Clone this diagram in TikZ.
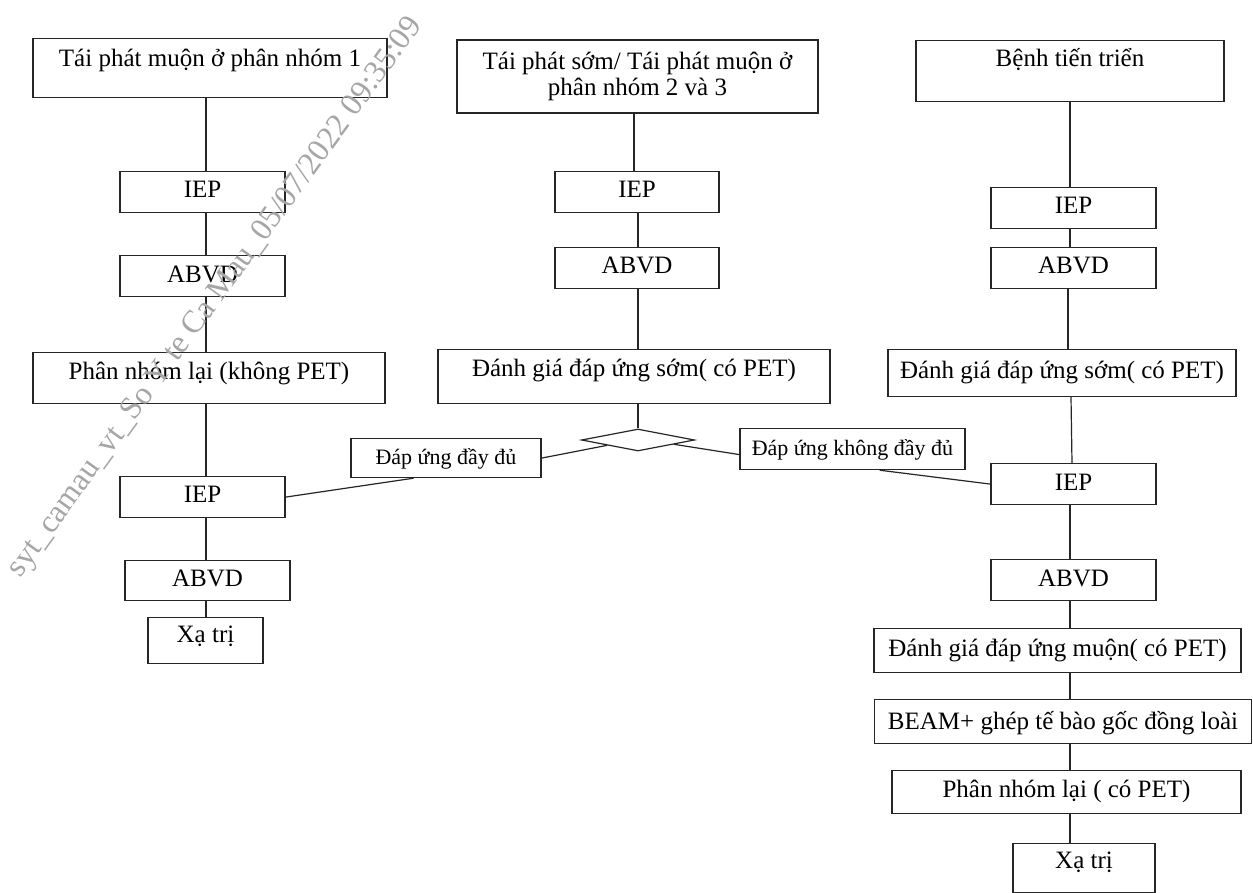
\documentclass[tikz,border=0pt]{standalone}
\usepackage{fontspec}
\setmainfont{Liberation Serif}
\usetikzlibrary{shapes.geometric,calc}

\newcommand{\mainsz}{\fontsize{25}{26}\selectfont}
\newcommand{\tagsz}{\fontsize{22}{24}\selectfont}
\newcommand{\wmsz}{\fontsize{32}{34}\selectfont}

\tikzset{
  box/.style={draw=black!85, line width=1.2pt, inner sep=0pt, anchor=north, font=\mainsz},
  tag/.style={draw=black!85, line width=1.2pt, inner sep=0pt, anchor=north, font=\tagsz},
  link/.style={draw=black!85, line width=1.2pt},
}

\begin{document}
\begin{tikzpicture}[x=1pt, y=-1pt]
\useasboundingbox[fill=white] (0,0) rectangle (1253,893);

% column axes
\coordinate (Lx) at (206,0);
\coordinate (Mx) at (634,0);
\coordinate (Mx2) at (638,0);
\coordinate (Rx) at (1070,0);

% left column
\node[box, minimum width=354, text height=28, text depth=31] (A1) at (210,38) {Tái phát muộn ở phân nhóm 1};
\node[box, minimum width=165, text height=26, text depth=15] (IEP1) at (202.5,171) {IEP};
\node[box, minimum width=165, text height=27, text depth=14] (ABVD1) at (202.5,255) {ABVD};
\node[box, minimum width=352, text height=27, text depth=24] (PN1) at (209,352) {Phân nhóm lại (không PET)};
\node[box, minimum width=165, text height=26, text depth=15] (IEP2) at (202.5,476) {IEP};
\node[box, minimum width=165, text height=26, text depth=14] (ABVD2) at (207.5,560) {ABVD};
\node[box, minimum width=115, text height=25, text depth=21] (XT1) at (205.5,617) {Xạ trị};

% middle column
\node[box, anchor=center, align=center, minimum width=361, minimum height=73] (MT) at (637.5,76.5)
  {Tái phát sớm/ Tái phát muộn ở\\phân nhóm 2 và 3};
\node[box, minimum width=164, text height=26, text depth=15] (IEP3) at (637,171) {IEP};
\node[box, minimum width=164, text height=26, text depth=15] (ABVD3) at (637,247) {ABVD};
\node[box, minimum width=392, text height=27, text depth=27] (DG1) at (634,349) {Đánh giá đáp ứng sớm( có PET)};
\node[draw=black!85, line width=1.2pt, diamond, inner sep=0pt, minimum width=113, minimum height=22] (dia) at (638,440) {};
\node[tag, minimum width=190, text height=26, text depth=13] (L1) at (446,438) {Đáp ứng đầy đủ\hspace{14pt}};
\node[tag, minimum width=225, text height=27, text depth=14] (L2) at (852.5,428) {Đáp ứng không đầy đủ};

% right column
\node[box, minimum width=308, text height=26, text depth=35] (BT) at (1070,40) {Bệnh tiến triển};
\node[box, minimum width=165, text height=26, text depth=15] (IEP4) at (1073.5,187) {IEP};
\node[box, minimum width=165, text height=26, text depth=15] (ABVD4) at (1073.5,247) {ABVD};
\node[box, minimum width=348, text height=29, text depth=18] (DG2) at (1062,349) {Đánh giá đáp ứng sớm( có PET)};
\node[box, minimum width=165, text height=27, text depth=14] (IEP5) at (1073.5,463) {IEP};
\node[box, minimum width=165, text height=27, text depth=14] (ABVD5) at (1073.5,559) {ABVD};
\node[box, minimum width=367, text height=28, text depth=16] (DGM) at (1057.5,628) {Đánh giá đáp ứng muộn( có PET)};
\node[box, minimum width=377, text height=30, text depth=14] (BEAM) at (1063,699) {BEAM+ ghép tế bào gốc đồng loài};
\node[box, minimum width=349, text height=27, text depth=16] (PN2) at (1066.5,770) {Phân nhóm lại ( có PET)};
\node[box, minimum width=142, text height=25, text depth=24] (XT2) at (1084,843) {Xạ trị};

% left connectors
\draw[link] (A1.south -| Lx) -- (IEP1.north -| Lx);
\draw[link] (IEP1.south -| Lx) -- (ABVD1.north -| Lx);
\draw[link] (ABVD1.south -| Lx) -- (PN1.north -| Lx);
\draw[link] (PN1.south -| Lx) -- (IEP2.north -| Lx);
\draw[link] (IEP2.south -| Lx) -- (ABVD2.north -| Lx);
\draw[link] (ABVD2.south -| Lx) -- (XT1.north -| Lx);

% middle connectors
\draw[link] (MT.south -| Mx) -- (IEP3.north -| Mx);
\draw[link] (IEP3.south -| Mx2) -- (ABVD3.north -| Mx2);
\draw[link] (ABVD3.south -| Mx2) -- (DG1.north -| Mx2);
\draw[link] (DG1.south -| dia.north) -- (dia.north);

% branches from the diamond
\draw[link] (L1.east) -- ($(dia.west)!0.46!(dia.south)$);
\draw[link] ($(dia.east)!0.37!(dia.south)$) -- ($(L2.west)+(0,5.5)$);
\draw[link] (IEP2.east) -- ($(L1.south west)!0.33!(L1.south east)$);
\draw[link] ($(L2.south west)!0.62!(L2.south east)$) -- (IEP5.west);

% right connectors
\draw[link] (BT.south -| Rx) -- (IEP4.north -| Rx);
\draw[link] (IEP4.south -| Rx) -- (ABVD4.north -| Rx);
\draw[link] ($(ABVD4.south -| Rx)+(-2,0)$) -- ($(DG2.north -| Rx)+(-2,0)$);
\draw[link] ($(DG2.south -| Rx)+(1,0)$) -- ($(IEP5.north -| Rx)+(2,0)$);
\draw[link] (IEP5.south -| Rx) -- (ABVD5.north -| Rx);
\draw[link] (ABVD5.south -| Rx) -- (DGM.north -| Rx);
\draw[link] (DGM.south -| Rx) -- (BEAM.north -| Rx);
\draw[link] (BEAM.south -| Rx) -- (PN2.north -| Rx);
\draw[link] (PN2.south -| Rx) -- (XT2.north -| Rx);

% document stamp
\node[rotate=54, text=gray!70, font=\wmsz, inner sep=0pt] (stamp) at (216,298)
  {syt\_camau\_vt\_So Y te Ca Mau\_05/07/2022 09:35:09};
\end{tikzpicture}
\end{document}
